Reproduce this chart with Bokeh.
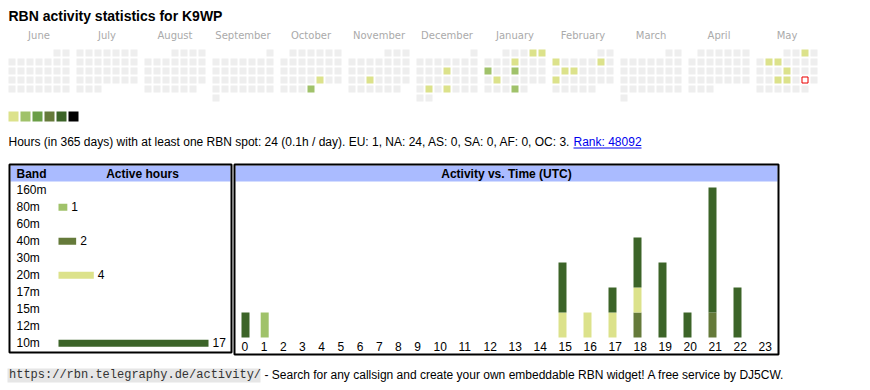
import datetime as dt
import calendar
from bokeh.plotting import figure
from bokeh.models import Range1d, ColumnDataSource
from bokeh.core.properties import value
from bokeh.embed import file_html
from bokeh.resources import INLINE

# ---------------- data ----------------
TITLE = "RBN activity statistics for K9WP"
MONTH_NAMES = ["June", "July", "August", "September", "October", "November",
               "December", "January", "February", "March", "April", "May"]
CAL_START = (2024, 6)
TODAY = dt.date(2025, 5, 24)

ACTIVE_DATES = ["2024-10-25", "2024-10-31", "2024-11-20", "2024-12-12", "2024-12-24",
                "2024-12-26", "2025-01-04", "2025-01-05", "2025-01-09", "2025-01-13",
                "2025-01-16", "2025-01-21", "2025-01-30", "2025-02-03", "2025-02-08",
                "2025-02-11", "2025-02-12", "2025-02-17", "2025-05-03", "2025-05-06",
                "2025-05-07", "2025-05-15", "2025-05-21", "2025-05-22"]
ACTIVE_LEVELS = [1, 2, 1, 1, 1,
                 1, 1, 1, 1, 2,
                 2, 1, 2, 1, 1,
                 1, 1, 1, 1, 1,
                 1, 1, 1, 1]
LEVEL_COLORS = ["#eeeeee", "#dce28b", "#a0c26a", "#6a9e46", "#657a3a", "#3c6428", "#000000"]

SUMMARY = ("Hours (in 365 days) with at least one RBN spot: 24 (0.1h / day). "
           "EU: 1, NA: 24, AS: 0, SA: 0, AF: 0, OC: 3.")
RANK_TEXT = "Rank: 48092"

BANDS = ["160m", "80m", "60m", "40m", "30m", "20m", "17m", "15m", "12m", "10m"]
BAND_HOURS = [0, 1, 0, 2, 0, 4, 0, 0, 0, 17]
BAND_COLORS = ["#b0b0d0", "#a0c26a", "#c0a060", "#657a3a", "#80a0c0",
               "#dce28b", "#c08080", "#a080c0", "#80c0c0", "#3c6428"]

HOURS = list(range(24))
HOURLY = {
    "160m": [0] * 24,
    "80m":  [0, 1, 0, 0, 0, 0, 0, 0, 0, 0, 0, 0, 0, 0, 0, 0, 0, 0, 0, 0, 0, 0, 0, 0],
    "60m":  [0] * 24,
    "40m":  [0, 0, 0, 0, 0, 0, 0, 0, 0, 0, 0, 0, 0, 0, 0, 0, 0, 0, 1, 0, 0, 1, 0, 0],
    "30m":  [0] * 24,
    "20m":  [0, 0, 0, 0, 0, 0, 0, 0, 0, 0, 0, 0, 0, 0, 0, 1, 1, 1, 1, 0, 0, 0, 0, 0],
    "17m":  [0] * 24,
    "15m":  [0] * 24,
    "12m":  [0] * 24,
    "10m":  [1, 0, 0, 0, 0, 0, 0, 0, 0, 0, 0, 0, 0, 0, 0, 2, 0, 1, 2, 3, 1, 5, 2, 0],
}
HEADER_BAND = "Band"
HEADER_ACTIVE = "Active hours"
HEADER_TIME = "Activity vs. Time (UTC)"
FOOTER_URL = "https://rbn.telegraphy.de/activity/"
FOOTER_TEXT = "- Search for any callsign and create your own embeddable RBN widget! A free service by DJ5CW."

# ---------------- page / layout constants ----------------
W, H = 870, 390
SANS = value("Liberation Sans")
HEAD_BLUE = "#aabbff"

p = figure(width=W, height=H, x_range=Range1d(0, W), y_range=Range1d(H, 0),
           output_backend="svg", toolbar_location=None, min_border=0)
p.axis.visible = False
p.xgrid.visible = False
p.ygrid.visible = False
p.outline_line_color = None
p.background_fill_color = "white"
p.border_fill_color = "white"

# title
p.text(x=[8], y=[15.8], text=[TITLE], text_font=SANS, text_font_size="14px",
       text_font_style="bold", text_color="black", text_baseline="middle")

# ---------------- calendar ----------------
lvl_lookup = {dt.date.fromisoformat(d): l for d, l in zip(ACTIVE_DATES, ACTIVE_LEVELS)}
BLOCK, PITCH, CELL, CAL_TOP, CAL_LEFT = 68, 9, 7, 49, 8
cx, cy, cc = [], [], []
mx, mlab = [], []
today_pos = None
for m, name in enumerate(MONTH_NAMES):
    yr = CAL_START[0] + (CAL_START[1] - 1 + m) // 12
    mo = (CAL_START[1] - 1 + m) % 12 + 1
    first = dt.date(yr, mo, 1)
    off = first.weekday()
    nd = calendar.monthrange(yr, mo)[1]
    left = CAL_LEFT + m * BLOCK
    mx.append(left + (6 * PITCH + CELL) / 2)
    mlab.append(name)
    for d in range(1, nd + 1):
        idx = off + d - 1
        row, col = idx // 7, idx % 7
        x = left + col * PITCH + CELL / 2
        y = CAL_TOP + row * PITCH + CELL / 2
        day = dt.date(yr, mo, d)
        cx.append(x)
        cy.append(y)
        cc.append(LEVEL_COLORS[lvl_lookup.get(day, 0)])
        if day == TODAY:
            today_pos = (x, y)

p.rect(x=cx, y=cy, width=CELL, height=CELL, fill_color=cc, line_color=None)
if today_pos:
    p.rect(x=[today_pos[0]], y=[today_pos[1]], width=CELL - 1, height=CELL - 1,
           fill_color="white", line_color="#ee0000", line_width=1)
p.text(x=mx, y=[35] * len(mx), text=mlab, text_font=value("DejaVu Sans"),
       text_font_size="10px", text_color="#aaaaaa", text_align="center",
       text_baseline="middle")

# level legend
lx = [CAL_LEFT + 5 + i * 12 for i in range(len(LEVEL_COLORS) - 1)]
p.rect(x=lx, y=[116] * len(lx), width=10, height=10, fill_color=LEVEL_COLORS[1:], line_color=None)

# summary line
p.text(x=[8], y=[141.7], text=[SUMMARY], text_font=SANS, text_font_size="12px",
       text_color="black", text_baseline="middle")
p.text(x=[573], y=[141.7], text=[RANK_TEXT], text_font=SANS, text_font_size="12px",
       text_color="#0000ee", text_baseline="middle")
p.segment(x0=[573], y0=[147.5], x1=[641], y1=[147.5], line_color="#0000ee", line_width=1)

# ---------------- tables frames ----------------
p.quad(left=[10], right=[230], top=[165], bottom=[181], fill_color=HEAD_BLUE, line_color=None)
p.rect(x=[(9 + 231) / 2], y=[(164 + 352) / 2], width=222, height=188,
       fill_color=None, line_color="black", line_width=2)
p.quad(left=[235], right=[777], top=[165], bottom=[181], fill_color=HEAD_BLUE, line_color=None)
p.rect(x=[(234 + 778) / 2], y=[(164 + 354) / 2], width=544, height=190,
       fill_color=None, line_color="black", line_width=2)

p.text(x=[16], y=[173.2], text=[HEADER_BAND], text_font=SANS, text_font_size="12px",
       text_font_style="bold", text_baseline="middle")
p.text(x=[142], y=[173.2], text=[HEADER_ACTIVE], text_font=SANS, text_font_size="12px",
       text_font_style="bold", text_align="center", text_baseline="middle")
p.text(x=[506], y=[173.2], text=[HEADER_TIME], text_font=SANS, text_font_size="12px",
       text_font_style="bold", text_align="center", text_baseline="middle")

# ---------------- band bars ----------------
BAR_X0, BAR_MAXW = 58, 150
k = BAR_MAXW / max(BAND_HOURS)
p.extra_x_ranges = {"bandx": Range1d(-BAR_X0 / k, (W - BAR_X0) / k)}
row_mid = [189.3 + 17 * i for i in range(len(BANDS))]
p.text(x=[16] * len(BANDS), y=row_mid, text=BANDS, text_font=SANS, text_font_size="12px",
       text_baseline="middle")
act = [i for i, h in enumerate(BAND_HOURS) if h > 0]
bsrc = ColumnDataSource(dict(
    y=[row_mid[i] + 0.5 for i in act],
    ty=[row_mid[i] for i in act],
    h=[BAND_HOURS[i] for i in act],
    lab=[str(BAND_HOURS[i]) for i in act],
    c=[BAND_COLORS[i] for i in act]))
p.hbar(y="y", left=0, right="h", height=7, fill_color="c", line_color=None,
       source=bsrc, x_range_name="bandx")
p.text(x="h", y="ty", text="lab", x_offset=4, source=bsrc, text_font=SANS,
       text_font_size="12px", text_baseline="middle", x_range_name="bandx")

# ---------------- hourly stacked bars ----------------
totals = [sum(HOURLY[b][h] for b in BANDS) for h in HOURS]
UNIT = 150 / max(totals)
BASE = 337
p.extra_y_ranges = {"houry": Range1d((BASE - H) / UNIT, BASE / UNIT)}
col_left = []
x = 235
for h in HOURS:
    col_left.append(x)
    x += 13.4 + 5.8 * len(str(h))
origin = [c + 6 for c in col_left]
hsrc = ColumnDataSource(dict(xc=[o + 4 for o in origin], **HOURLY))
p.vbar_stack(BANDS, x="xc", width=8, fill_color=BAND_COLORS, line_color=None,
             source=hsrc, y_range_name="houry")
p.text(x=origin, y=[346] * 24, text=[str(h) for h in HOURS], text_font=SANS,
       text_font_size="12px", text_baseline="middle")

# ---------------- footer ----------------
p.quad(left=[7], right=[260], top=[368], bottom=[382], fill_color="#e6e6e6", line_color=None)
p.text(x=[8.5], y=[374.5], text=[FOOTER_URL], text_font=value("Liberation Mono"),
       text_font_size="12px", text_color="#333333", text_baseline="middle")
p.text(x=[264], y=[374.2], text=[FOOTER_TEXT], text_font=SANS, text_font_size="12px",
       text_color="black", text_baseline="middle")

open("out.html", "w").write(file_html(p, INLINE))
